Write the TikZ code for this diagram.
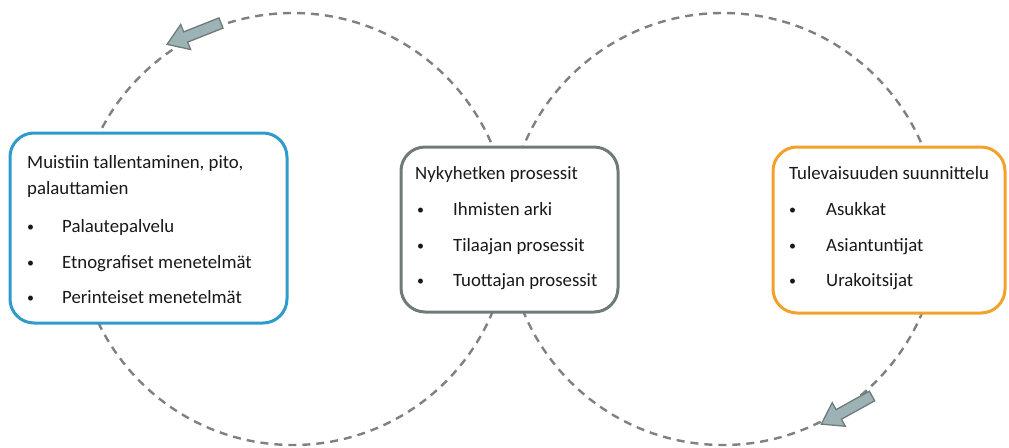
\documentclass[tikz,border=0pt]{standalone}
\usepackage{fontspec}
\setmainfont{Carlito}
\definecolor{ringgrey}{HTML}{808080}
\definecolor{boxblue}{HTML}{2E9BCB}
\definecolor{boxgrey}{HTML}{6F7B7B}
\definecolor{boxorange}{HTML}{F2A12B}
\definecolor{arrowfill}{HTML}{9DB2B4}
\definecolor{arrowline}{HTML}{6F7B7B}
\tikzset{
  ring/.style={draw=ringgrey, line width=2.4pt, dash pattern=on 8pt off 6pt},
  panel/.style={draw, line width=3pt, fill=white, rounded corners=24pt, inner sep=0pt},
  head/.style={anchor=base west, inner sep=0pt, font=\fontsize{18.8}{22}\selectfont, text=black!90},
  item/.style={anchor=base west, inner sep=0pt, font=\fontsize{18.8}{22}\selectfont, text=black!90},
  dot/.style={anchor=base west, inner sep=0pt, font=\fontsize{14}{18}\selectfont, text=black!90},
  flowarrow/.style={fill=arrowfill, draw=arrowline, line width=1.3pt, line join=miter}
}
\begin{document}
\begin{tikzpicture}[x=1pt, y=-1pt]
\useasboundingbox (0,0) rectangle (1009,447);

% the two dashed rings
\coordinate (cl) at (293,229);
\coordinate (cr) at (723,229);
\draw[ring] (cl) circle[radius=216];
\draw[ring] (cr) circle[radius=216];

% flow arrows along the rings
\begin{scope}[shift={(221,23)}, rotate=201.6]
  \draw[flowarrow] (0,5.5) -- (38,5.5) -- (38,13.5) -- (58,0) -- (38,-13.5) -- (38,-5.5) -- (0,-5.5) -- cycle;
\end{scope}
\begin{scope}[shift={(872,396)}, rotate=209]
  \draw[flowarrow] (0,5.5) -- (38,5.5) -- (38,13.5) -- (58,0) -- (38,-13.5) -- (38,-5.5) -- (0,-5.5) -- cycle;
\end{scope}

% panels
\node[panel, draw=boxblue, minimum width=277pt, minimum height=190pt] (memory) at (148.5,228) {};
\node[panel, draw=boxgrey, minimum width=217pt, minimum height=165pt] (present) at (509.5,229.5) {};
\node[panel, draw=boxorange, minimum width=232pt, minimum height=166pt] (future) at (889,230) {};

% left panel text
\node[head] (m0) at (27,168) {Muistiin tallentaminen, pito,};
\node[head] (m1) at (27,194) {palauttamien};
\node[dot] (md1) at (27,231) {\textbullet};
\node[item] (mi1) at (62,232) {Palautepalvelu};
\node[dot] (md2) at (27,267) {\textbullet};
\node[item] (mi2) at (62,268) {Etnografiset menetelmät};
\node[dot] (md3) at (27,302) {\textbullet};
\node[item] (mi3) at (62,303) {Perinteiset menetelmät};

% centre panel text
\node[head] (p0) at (415,179) {Nykyhetken prosessit};
\node[dot] (pd1) at (417,214) {\textbullet};
\node[item] (pi1) at (453,215) {Ihmisten arki};
\node[dot] (pd2) at (417,250) {\textbullet};
\node[item] (pi2) at (453,251) {Tilaajan prosessit};
\node[dot] (pd3) at (417,285) {\textbullet};
\node[item] (pi3) at (453,286) {Tuottajan prosessit};

% right panel text
\node[head] (f0) at (789,179) {Tulevaisuuden suunnittelu};
\node[dot] (fd1) at (789,214) {\textbullet};
\node[item] (fi1) at (826,215) {Asukkat};
\node[dot] (fd2) at (789,250) {\textbullet};
\node[item] (fi2) at (826,251) {Asiantuntijat};
\node[dot] (fd3) at (789,285) {\textbullet};
\node[item] (fi3) at (826,286) {Urakoitsijat};
\end{tikzpicture}
\end{document}
